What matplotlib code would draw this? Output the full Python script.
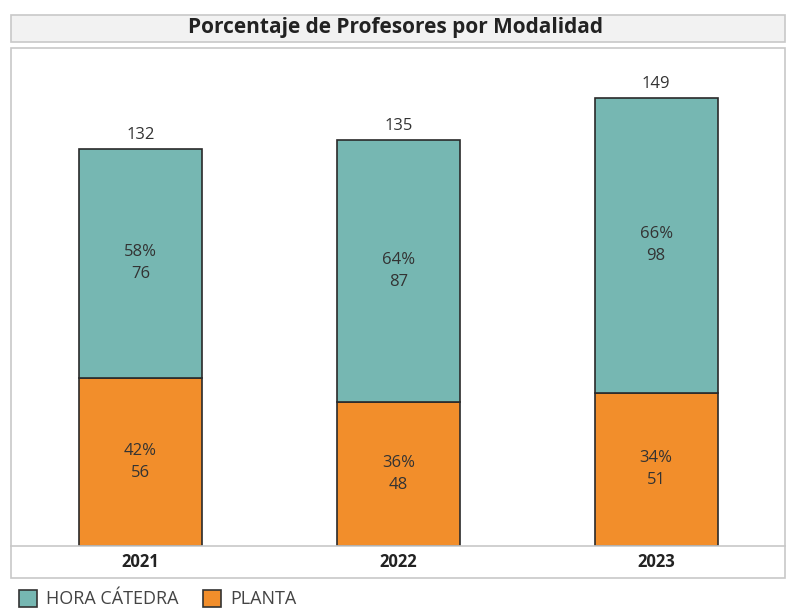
import numpy as np
import matplotlib
matplotlib.use("Agg")
import matplotlib.pyplot as plt
from matplotlib.patches import Rectangle

years = ["2021", "2022", "2023"]
hora_catedra = [76, 87, 98]
planta = [56, 48, 51]
pct_hora = ["58%", "64%", "66%"]
pct_planta = ["42%", "36%", "34%"]
totals = [132, 135, 149]

TEAL = "#76b7b2"
ORANGE = "#f28e2b"
TXT = "#333333"
EDGE = "#c8c8c8"

plt.rcParams["font.family"] = ["Open Sans", "DejaVu Sans"]

W, H = 793, 610
fig = plt.figure(figsize=(W / 100, H / 100), dpi=100)


def fx(px):
    return px / W


def fy(py):
    return 1 - py / H


# title box
fig.patches.append(Rectangle((fx(11), fy(42)), fx(774), 27 / H, transform=fig.transFigure,
                             facecolor="#f2f2f2", edgecolor=EDGE, lw=1.2))
fig.text(fx(396), fy(28), "Porcentaje de Profesores por Modalidad", ha="center", va="center",
         fontsize=15, fontweight="bold", color="#222222")

# outer chart box
fig.patches.append(Rectangle((fx(11), fy(578)), fx(774), 530 / H, transform=fig.transFigure,
                             facecolor="white", edgecolor=EDGE, lw=1.2, zorder=0))

ax = fig.add_axes([fx(11), fy(546), fx(774), 498 / H])
ax.set_zorder(3)
ax.set_facecolor("none")
x = np.arange(len(years))
ymax = 498 / 3.008
bw = 0.477

ax.bar(x, planta, bw, color=ORANGE, edgecolor="#2a2a2a", lw=1.2)
ax.bar(x, hora_catedra, bw, bottom=planta, color=TEAL, edgecolor="#2a2a2a", lw=1.2)

for i in range(len(years)):
    mid_p = planta[i] / 2
    ax.text(x[i], mid_p + 3.6, pct_planta[i], ha="center", va="center", fontsize=12, color=TXT)
    ax.text(x[i], mid_p - 3.6, str(planta[i]), ha="center", va="center", fontsize=12, color=TXT)
    mid_h = planta[i] + hora_catedra[i] / 2
    ax.text(x[i], mid_h + 3.6, pct_hora[i], ha="center", va="center", fontsize=12, color=TXT)
    ax.text(x[i], mid_h - 3.6, str(hora_catedra[i]), ha="center", va="center", fontsize=12, color=TXT)
    ax.text(x[i], totals[i] + 2, str(totals[i]), ha="center", va="bottom", fontsize=12, color=TXT)
    fig.text(fx(140.5 + 257.75 * i), fy(562), years[i], ha="center", va="center",
             fontsize=12, fontweight="bold", color="#222222")

ax.set_xlim(-0.502, 2.5)
ax.set_ylim(0, ymax)
ax.set_xticks([])
ax.set_yticks([])
for s in ["top", "left", "right"]:
    ax.spines[s].set_visible(False)
ax.spines["bottom"].set_color(EDGE)
ax.spines["bottom"].set_linewidth(1.2)

# legend
fig.patches.append(Rectangle((fx(19), fy(607)), fx(18), 17 / H, transform=fig.transFigure,
                             facecolor=TEAL, edgecolor="#333333", lw=1.2))
fig.text(fx(46), fy(599), "HORA CÁTEDRA", ha="left", va="center", fontsize=13, color="#444444")
fig.patches.append(Rectangle((fx(203), fy(607)), fx(18), 17 / H, transform=fig.transFigure,
                             facecolor=ORANGE, edgecolor="#333333", lw=1.2))
fig.text(fx(230), fy(599), "PLANTA", ha="left", va="center", fontsize=13, color="#444444")

fig.savefig("out.png", dpi=100)
